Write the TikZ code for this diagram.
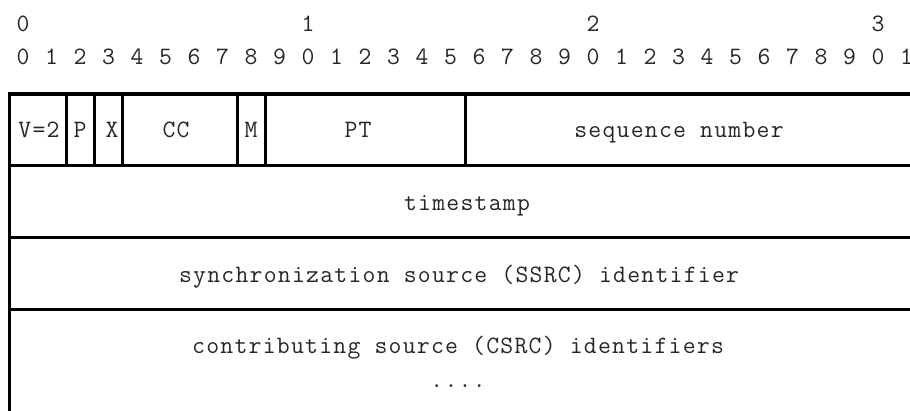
\documentclass[tikz,border=0pt]{standalone}
\usepackage{fontspec}
\setmonofont{Latin Modern Mono}[LetterSpace=5]

\begin{document}
\begin{tikzpicture}
[x = 1pt, y = -1pt,
 frame/.style = {draw = black, line width = 3.5pt},
 sep/.style = {draw = black, line width = 3pt},
 txt/.style = {font = \ttfamily\fontsize{25}{27}\selectfont, text = black!85, inner sep = 0pt, anchor = base}
 ]
\useasboundingbox (0,0) rectangle (910,410);
\clip (0,0) rectangle (910,410);
% bit numbering
\foreach \t in {0,...,3}
  \node [txt] (dec\t) at (23+285*\t,31) {\t};
\foreach \i in {0,...,31}{
  \pgfmathtruncatemacro{\d}{mod(\i,10)}
  \node [txt] (bit\i) at (23+28.5*\i,64) {\d};
}
% header frame
\draw [frame] (9.5,412) -- (9.5,94) -- (930,94);
\draw [sep] (9.5,165) -- (930,165);
\draw [sep] (9.5,237) -- (930,237);
\draw [sep] (9.5,309) -- (930,309);
\foreach \x in {66,94.5,122.5,237,265,465}
  \draw [sep] (\x,94) -- (\x,165);
% fields
\node [txt] (ver) at (39,137) {V=2};
\node [txt] (pad) at (80,137) {P};
\node [txt] (ext) at (112,137) {X};
\node [txt] (cc) at (176,137) {CC};
\node [txt] (mark) at (251,137) {M};
\node [txt] (pt) at (358,137) {PT};
\node [txt] (seq) at (679,137) {sequence number};
\node [txt] (ts) at (467,210) {timestamp};
\node [txt] (ssrc) at (459,282) {synchronization source (SSRC) identifier};
\node [txt] (csrc) at (458,353) {contributing source (CSRC) identifiers};
\node [txt] (more) at (458,387) {....};
\end{tikzpicture}
\end{document}
